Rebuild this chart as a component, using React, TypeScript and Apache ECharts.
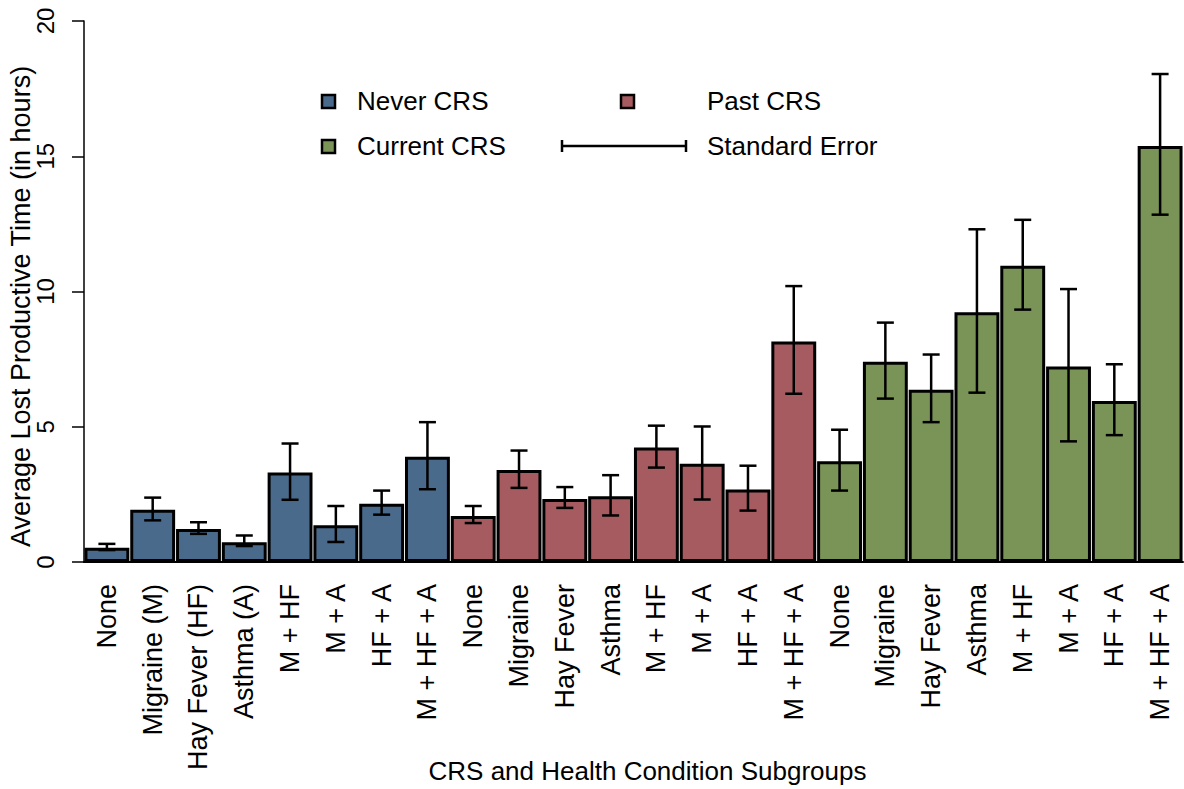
import React, { useEffect, useRef } from "react";
import * as echarts from "echarts";

const categories = [
  "None", "Migraine (M)", "Hay Fever (HF)", "Asthma (A)", "M + HF", "M + A", "HF + A", "M + HF + A",
  "None", "Migraine", "Hay Fever", "Asthma", "M + HF", "M + A", "HF + A", "M + HF + A",
  "None", "Migraine", "Hay Fever", "Asthma", "M + HF", "M + A", "HF + A", "M + HF + A",
];

const neverCRS = [0.53, 1.93, 1.22, 0.73, 3.31, 1.36, 2.15, 3.89];
const neverLow = [0.44, 1.54, 1.04, 0.59, 2.3, 0.74, 1.75, 2.69];
const neverHigh = [0.67, 2.38, 1.47, 0.98, 4.38, 2.07, 2.64, 5.17];

const pastCRS = [1.7, 3.4, 2.33, 2.43, 4.23, 3.63, 2.68, 8.15];
const pastLow = [1.44, 2.74, 2.0, 1.72, 3.49, 2.31, 1.9, 6.22];
const pastHigh = [2.07, 4.12, 2.77, 3.21, 5.04, 5.01, 3.56, 10.2];

const currentCRS = [3.72, 7.4, 6.37, 9.23, 10.95, 7.23, 5.95, 15.38];
const currentLow = [2.64, 6.04, 5.17, 6.26, 9.33, 4.46, 4.69, 12.84];
const currentHigh = [4.89, 8.85, 7.67, 12.3, 12.65, 10.09, 7.31, 18.04];

const yTicks = [0, 5, 10, 15, 20];

const COLORS = { never: "#4a6a8c", past: "#a55b5f", current: "#7a9457" };
const FONT = "Liberation Sans, Arial, sans-serif";
const FS = 26;

export default function App() {
  const ref = useRef<HTMLDivElement>(null);

  useEffect(() => {
    if (!ref.current) return;
    const chart = echarts.init(ref.current, undefined, { renderer: "svg" });
    const empty = (n: number) => Array(n).fill("-");
    const neverData = [...neverCRS, ...empty(16)];
    const pastData = [...empty(8), ...pastCRS, ...empty(8)];
    const currentData = [...empty(16), ...currentCRS];
    const lows = [...neverLow, ...pastLow, ...currentLow];
    const highs = [...neverHigh, ...pastHigh, ...currentHigh];
    const errData = lows.map((l, i) => [i, l, highs[i]]);

    const barCommon = {
      type: "bar",
      stack: "all",
      barCategoryGap: "2%",
      z: 2,
    };

    const black = "#000";
    chart.setOption({
      animation: false,
      textStyle: { fontFamily: FONT },
      grid: { left: 84, right: 1, top: 21, bottom: 227, containLabel: false, outerBoundsMode: "none" },
      xAxis: {
        type: "category",
        data: categories,
        boundaryGap: true,
        name: "CRS and Health Condition Subgroups",
        nameLocation: "middle",
        nameGap: 196,
        nameMoveOverlap: false,
        nameTextStyle: { fontSize: FS, color: black, fontFamily: FONT, padding: [0, 0, 0, 28] },
        axisLine: { lineStyle: { color: black, width: 2 } },
        axisTick: { alignWithLabel: true, length: 12, lineStyle: { color: black, width: 1.5 } },
        axisLabel: {
          interval: 0,
          rotate: 90,
          margin: 22,
          fontSize: 27,
          color: black,
          fontFamily: FONT,
        },
        splitLine: { show: false },
      },
      yAxis: {
        type: "value",
        min: yTicks[0],
        max: yTicks[yTicks.length - 1],
        interval: 5,
        name: "Average Lost Productive Time (in hours)",
        nameLocation: "middle",
        nameRotate: 90,
        nameGap: 50,
        nameMoveOverlap: false,
        nameTextStyle: { fontSize: 27, color: black, fontFamily: FONT, padding: [0, 30, 0, 0] },
        axisLine: { show: true, lineStyle: { color: black, width: 1.5 } },
        axisTick: { show: true, length: 12, lineStyle: { color: black, width: 1.5 } },
        axisLabel: {
          rotate: 90,
          align: "center",
          verticalAlign: "bottom",
          margin: 27,
          fontSize: 24,
          color: black,
          fontFamily: FONT,
        },
        splitLine: { show: false },
      },
      series: [
        {
          ...barCommon,
          name: "Never CRS",
          data: neverData,
          itemStyle: { color: COLORS.never, borderColor: black, borderWidth: 3 },
        },
        {
          ...barCommon,
          name: "Past CRS",
          data: pastData,
          itemStyle: { color: COLORS.past, borderColor: black, borderWidth: 3 },
        },
        {
          ...barCommon,
          name: "Current CRS",
          data: currentData,
          itemStyle: { color: COLORS.current, borderColor: black, borderWidth: 3 },
        },
        {
          type: "custom",
          name: "Standard Error",
          z: 5,
          data: errData,
          encode: { x: 0, y: [1, 2] },
          renderItem: (params: any, api: any) => {
            const x = api.value(0);
            const lo = api.coord([x, api.value(1)]);
            const hi = api.coord([x, api.value(2)]);
            const w = 8.5;
            const st = { stroke: black, lineWidth: 2.5 };
            return {
              type: "group",
              children: [
                { type: "line", shape: { x1: lo[0], y1: hi[1], x2: lo[0], y2: lo[1] }, style: st },
                { type: "line", shape: { x1: lo[0] - w, y1: hi[1], x2: lo[0] + w, y2: hi[1] }, style: st },
                { type: "line", shape: { x1: lo[0] - w, y1: lo[1], x2: lo[0] + w, y2: lo[1] }, style: st },
              ],
            };
          },
        },
      ],
      graphic: [
        { type: "rect", shape: { x: 322, y: 95, width: 13, height: 13 }, style: { fill: COLORS.never, stroke: black, lineWidth: 2.5 } },
        { type: "text", x: 357, y: 101, style: { text: "Never CRS", font: `${FS}px ${FONT}`, fill: black, verticalAlign: "middle" } },
        { type: "rect", shape: { x: 621, y: 95, width: 13, height: 13 }, style: { fill: COLORS.past, stroke: black, lineWidth: 2.5 } },
        { type: "text", x: 707, y: 101, style: { text: "Past CRS", font: `${FS}px ${FONT}`, fill: black, verticalAlign: "middle" } },
        { type: "rect", shape: { x: 322, y: 140, width: 13, height: 13 }, style: { fill: COLORS.current, stroke: black, lineWidth: 2.5 } },
        { type: "text", x: 357, y: 146, style: { text: "Current CRS", font: `${FS}px ${FONT}`, fill: black, verticalAlign: "middle" } },
        { type: "line", shape: { x1: 562, y1: 146, x2: 686, y2: 146 }, style: { stroke: black, lineWidth: 2.5 } },
        { type: "line", shape: { x1: 562, y1: 140, x2: 562, y2: 152 }, style: { stroke: black, lineWidth: 2.5 } },
        { type: "line", shape: { x1: 686, y1: 140, x2: 686, y2: 152 }, style: { stroke: black, lineWidth: 2.5 } },
        { type: "text", x: 707, y: 146, style: { text: "Standard Error", font: `${FS}px ${FONT}`, fill: black, verticalAlign: "middle" } },
      ],
    });
    return () => chart.dispose();
  }, []);

  return (
    <div
      ref={ref}
      style={{ position: "absolute", left: 0, top: 0, width: 1184, height: 789, background: "#fff" }}
    />
  );
}
